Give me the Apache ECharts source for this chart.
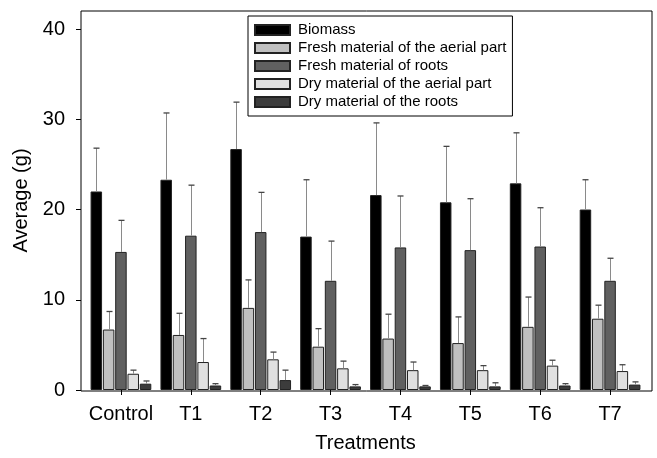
<!DOCTYPE html>
<html>
<head>
<meta charset="utf-8">
<script src="https://cdn.jsdelivr.net/npm/echarts@6/dist/echarts.min.js"></script>
<style>
html,body{margin:0;padding:0;background:#fff;}
#chart{width:657px;height:458px;}
</style>
</head>
<body>
<div id="chart"></div>
<script>
const categories = ['Control', 'T1', 'T2', 'T3', 'T4', 'T5', 'T6', 'T7'];
const seriesNames = ['Biomass', 'Fresh material of the aerial part', 'Fresh material of roots', 'Dry material of the aerial part', 'Dry material of the roots'];

const biomass = [22.0, 23.3, 26.7, 17.0, 21.6, 20.8, 22.9, 20.0];
const biomassSD = [4.8, 7.4, 5.2, 6.3, 8.0, 6.2, 5.6, 3.3];

const freshAerial = [6.7, 6.1, 9.1, 4.8, 5.7, 5.2, 7.0, 7.9];
const freshAerialSD = [2.0, 2.4, 3.1, 2.0, 2.7, 2.9, 3.3, 1.5];

const freshRoots = [15.3, 17.1, 17.5, 12.1, 15.8, 15.5, 15.9, 12.1];
const freshRootsSD = [3.5, 5.6, 4.4, 4.4, 5.7, 5.7, 4.3, 2.5];

const dryAerial = [1.8, 3.1, 3.4, 2.4, 2.2, 2.2, 2.7, 2.1];
const dryAerialSD = [0.4, 2.6, 0.8, 0.8, 0.9, 0.5, 0.6, 0.7];

const dryRoots = [0.7, 0.5, 1.1, 0.4, 0.4, 0.4, 0.5, 0.6];
const dryRootsSD = [0.3, 0.2, 1.1, 0.2, 0.1, 0.4, 0.2, 0.3];

const yTicks = [0, 10, 20, 30, 40];

const allMeans = [biomass, freshAerial, freshRoots, dryAerial, dryRoots];
const allSD = [biomassSD, freshAerialSD, freshRootsSD, dryAerialSD, dryRootsSD];
const palette = ['#000000', '#c0c0c0', '#606060', '#e0e0e0', '#3c3c3c'];

const FONT = "'Liberation Sans', Arial, sans-serif";
const BAR_W = 11.5;
const BAR_GAP = 0.07;
const PITCH = BAR_W * (1 + BAR_GAP);

const barSeries = allMeans.map((vals, k) => ({
  name: seriesNames[k],
  type: 'bar',
  xAxisIndex: 1,
  yAxisIndex: 1,
  data: vals,
  barWidth: BAR_W,
  barGap: (BAR_GAP * 100) + '%',
  itemStyle: { color: palette[k], borderColor: '#222', borderWidth: 1 },
  z: 2
}));

const errSeries = allMeans.map((vals, k) => ({
  type: 'custom',
  xAxisIndex: 1,
  yAxisIndex: 1,
  silent: true,
  z: 3,
  data: vals.map((v, i) => [i, v + allSD[k][i], v]),
  renderItem: function (params, api) {
    const top = api.coord([api.value(0), api.value(1)]);
    const base = api.coord([api.value(0), api.value(2)]);
    const x = Math.round(top[0] + (k - 2) * PITCH) + 0.5;
    return {
      type: 'group',
      children: [
        { type: 'line', shape: { x1: x, y1: base[1], x2: x, y2: top[1] }, style: { stroke: '#8a8a8a', lineWidth: 1 } },
        { type: 'line', shape: { x1: x - 3, y1: top[1], x2: x + 3, y2: top[1] }, style: { stroke: '#444', lineWidth: 1.3 } }
      ]
    };
  }
}));

const option = {
  animation: false,
  backgroundColor: '#fff',
  textStyle: { fontFamily: FONT },
  grid: [
    { left: 81, right: 5, top: 11, bottom: 67, show: true, borderColor: '#000', borderWidth: 1, backgroundColor: 'transparent' },
    { left: 86, right: 12, top: 11, bottom: 67 }
  ],
  legend: {
    data: seriesNames,
    orient: 'vertical',
    left: 248,
    top: 16,
    padding: [5, 6, 5, 6],
    itemWidth: 35,
    itemHeight: 10,
    itemGap: 0,
    icon: 'rect',
    borderColor: '#000',
    borderWidth: 1,
    textStyle: { fontFamily: FONT, fontSize: 15, color: '#000', lineHeight: 18, padding: [0, 0, 0, 3] }
  },
  xAxis: [
    { gridIndex: 0, type: 'value', min: 0, max: 1, show: false },
    {
      gridIndex: 1,
      type: 'category',
      data: categories,
      axisLine: { show: false },
      axisTick: { show: true, alignWithLabel: true, length: 5, lineStyle: { color: '#000' } },
      axisLabel: { fontFamily: FONT, fontSize: 20, color: '#000', margin: 14, interval: 0 },
      name: 'Treatments',
      nameLocation: 'middle',
      nameGap: 43,
      nameTextStyle: { fontFamily: FONT, fontSize: 20, color: '#000' }
    }
  ],
  yAxis: [
    { gridIndex: 0, type: 'value', min: 0, max: 1, show: false },
    {
      gridIndex: 1,
      type: 'value',
      min: 0,
      max: 42,
      offset: 5,
      splitLine: { show: false },
      axisLine: { show: false },
      axisTick: { show: true, length: 5, customValues: yTicks, lineStyle: { color: '#000' } },
      axisLabel: { fontFamily: FONT, fontSize: 20, color: '#000', margin: 16, customValues: yTicks },
      name: 'Average (g)',
      nameLocation: 'middle',
      nameGap: 48,
      nameTextStyle: { fontFamily: FONT, fontSize: 20, color: '#000' }
    }
  ],
  series: barSeries.concat(errSeries)
};

const chart = echarts.init(document.getElementById('chart'), null, { renderer: 'canvas' });
chart.setOption(option);
</script>
</body>
</html>
